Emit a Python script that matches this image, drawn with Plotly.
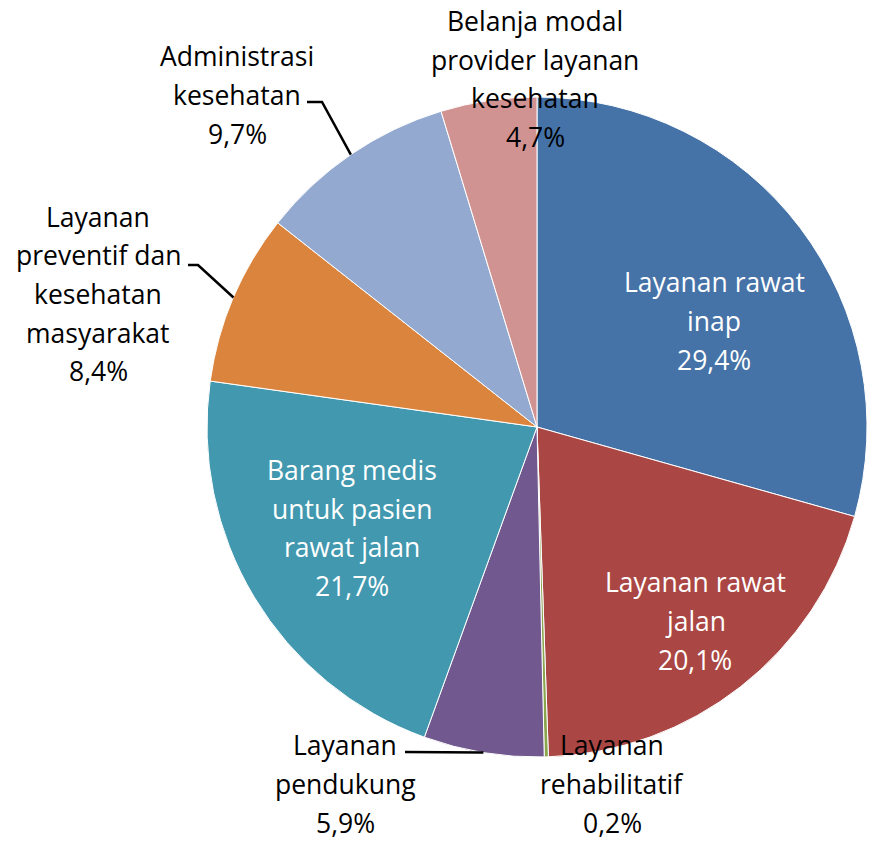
import math
import plotly.graph_objects as go

# ---- data ----
categories = [
    "Layanan rawat inap",
    "Layanan rawat jalan",
    "Layanan rehabilitatif",
    "Layanan pendukung",
    "Barang medis untuk pasien rawat jalan",
    "Layanan preventif dan kesehatan masyarakat",
    "Administrasi kesehatan",
    "Belanja modal provider layanan kesehatan",
]
values = [29.4, 20.1, 0.2, 5.9, 21.7, 8.4, 9.7, 4.7]
label_lines = [
    ["Layanan rawat", "inap"],
    ["Layanan rawat", "jalan"],
    ["Layanan", "rehabilitatif"],
    ["Layanan", "pendukung"],
    ["Barang medis", "untuk pasien", "rawat jalan"],
    ["Layanan", "preventif dan", "kesehatan", "masyarakat"],
    ["Administrasi", "kesehatan"],
    ["Belanja modal", "provider layanan", "kesehatan"],
]
colors = ["#4572A7", "#AA4643", "#89A54E", "#71588F",
          "#4198AF", "#DB843D", "#93A9CF", "#D19392"]
inside = [True, True, False, False, True, False, False, False]

# ---- layout (pixels) ----
W, H = 871, 842
CX, CY, R = 537, 427, 330
LS = 38.7  # line spacing in px
FONT = dict(family="Open Sans", size=26.5)
label_pos = [(714, 321), (695, 621), (612, 784), (345, 784),
             (352, 528), (98, 294), (237, 95), (535, 79)]
# leader line anchors (start, elbow) for outside labels with lines
leaders = {3: [(405, 752)], 5: [(188, 265), (198, 265)], 6: [(307, 102), (322, 102)]}

def px(x):
    return x / W

def py(y):
    return 1 - y / H

fig = go.Figure(go.Pie(
    labels=categories, values=values, sort=False, direction="clockwise",
    rotation=0, marker=dict(colors=colors, line=dict(color="white", width=1)),
    textinfo="none", hoverinfo="label+percent", showlegend=False,
    domain=dict(x=[px(CX - R), px(CX + R)], y=[py(CY + R), py(CY - R)]),
))

total = sum(values)
annotations = []
shapes = []
cum = 0.0
for i, v in enumerate(values):
    mid = (cum + v / 2) / total * 2 * math.pi
    cum += v
    pct = f"{v:.1f}".replace(".", ",") + "%"
    lines = label_lines[i] + [pct]
    lx, ly = label_pos[i]
    n = len(lines)
    for k, line in enumerate(lines):
        yk = ly + (k - (n - 1) / 2) * LS
        annotations.append(dict(
            x=px(lx), y=py(yk), xref="paper", yref="paper", text=line,
            showarrow=False, xanchor="center", yanchor="middle",
            font=dict(FONT, color="white" if inside[i] else "black"),
        ))
    if i in leaders:
        ex = CX + R * math.sin(mid)
        ey = CY - R * math.cos(mid)
        pts = leaders[i] + [(ex, ey)]
        path = "M " + " L ".join(f"{px(a)},{py(b)}" for a, b in pts)
        shapes.append(dict(type="path", xref="paper", yref="paper", path=path,
                           line=dict(color="black", width=2.5)))

fig.update_layout(
    width=W, height=H, margin=dict(l=0, r=0, t=0, b=0),
    paper_bgcolor="white", plot_bgcolor="white",
    annotations=annotations, shapes=shapes,
)
fig.write_html("out.html", config={"displayModeBar": False},
               post_script="document.body.style.margin='0px';document.body.style.overflow='hidden';")
